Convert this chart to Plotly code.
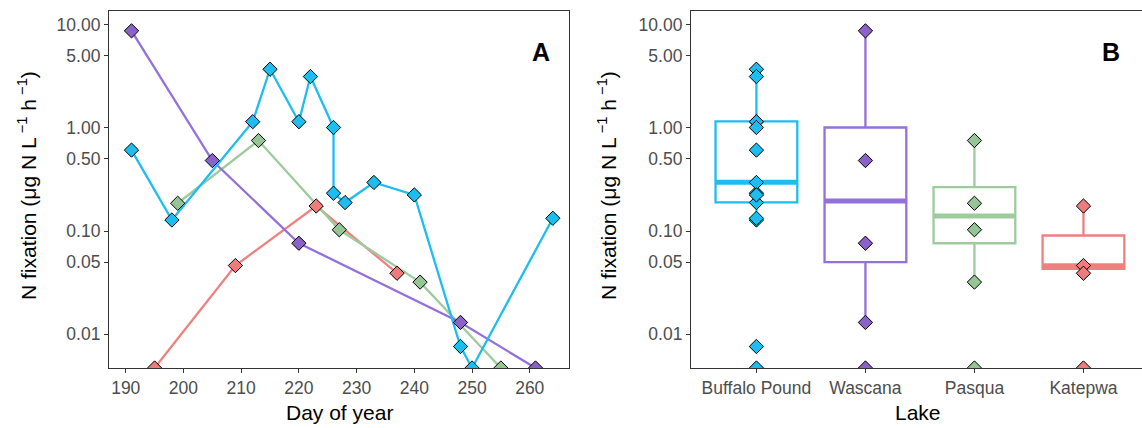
import plotly.graph_objects as go
import numpy as np

# ---------------- data ----------------
lakes = ["Buffalo Pound", "Wascana", "Pasqua", "Katepwa"]
colors = ["#1DBDF0", "#9370DB", "#9DCB9D", "#F08080"]
marker_colors = ["#1DBDF0", "#8A62C8", "#95C595", "#EE7C7C"]

bp_day = [191, 198, 212, 215, 220, 222, 226, 226, 228, 233, 240, 248, 250, 264]
bp_val = [0.61, 0.128, 1.15, 3.71, 1.15, 3.15, 1.01, 0.233, 0.189, 0.296, 0.224, 0.0076, 0.0047, 0.133]
wa_day = [191, 205, 220, 248, 261]
wa_val = [8.74, 0.483, 0.0762, 0.013, 0.0047]
pa_day = [199, 213, 227, 241, 255]
pa_val = [0.186, 0.755, 0.103, 0.032, 0.0047]
ka_day = [195, 209, 223, 237]
ka_val = [0.0047, 0.0463, 0.175, 0.039]

days = [bp_day, wa_day, pa_day, ka_day]
vals = [bp_val, wa_val, pa_val, ka_val]

# box statistics (panel B)
box_q1 = [0.19, 0.0499, 0.0762, 0.043]
box_med = [0.298, 0.196, 0.140, 0.0462]
box_q3 = [1.16, 1.01, 0.267, 0.0906]
box_lo = [0.128, 0.0133, 0.0317, 0.043]
box_hi = [3.71, 8.74, 0.755, 0.175]

ytick_vals = [10, 5, 1, 0.5, 0.1, 0.05, 0.01]
ytick_text = ["10.00", "5.00", "1.00", "0.50", "0.10", "0.05", "0.01"]
xtick_vals = [190, 200, 210, 220, 230, 240, 250, 260]

# ---------------- figure ----------------
W, H = 1142, 428
FONT = "Liberation Sans, Arial, sans-serif"
TICK = 17.5
TITLE = 21
fig = go.Figure()

# Panel A lines
order = [3, 2, 1, 0]
for i in order:
    fig.add_trace(go.Scatter(x=days[i], y=vals[i], mode="lines",
                             line=dict(color=colors[i], width=2.3),
                             xaxis="x", yaxis="y", showlegend=False, hoverinfo="skip",
                             cliponaxis=True))
for i in order:
    fig.add_trace(go.Scatter(x=days[i], y=vals[i], mode="markers",
                             marker=dict(symbol="diamond", size=11, color=marker_colors[i],
                                         line=dict(color="black", width=1)),
                             xaxis="x", yaxis="y", showlegend=False, cliponaxis=True))

# Panel B boxes
bw = 0.75
for i, lake in enumerate(lakes):
    pos = i + 1
    fig.add_trace(go.Box(x=[pos], q1=[box_q1[i]], median=[box_med[i]], q3=[box_q3[i]],
                         lowerfence=[box_lo[i]], upperfence=[box_hi[i]],
                         width=bw, boxpoints=False, whiskerwidth=0,
                         line=dict(color=colors[i], width=2.3),
                         fillcolor="rgba(255,255,255,0)",
                         xaxis="x2", yaxis="y2", showlegend=False, name=lake))
    fig.add_trace(go.Scatter(x=[pos - bw / 2, pos + bw / 2], y=[box_med[i], box_med[i]],
                             mode="lines", line=dict(color=colors[i], width=5),
                             xaxis="x2", yaxis="y2", showlegend=False, hoverinfo="skip"))
for i, lake in enumerate(lakes):
    pos = i + 1
    fig.add_trace(go.Scatter(x=[pos] * len(vals[i]), y=vals[i], mode="markers",
                             marker=dict(symbol="diamond", size=11, color=marker_colors[i],
                                         line=dict(color="black", width=1)),
                             xaxis="x2", yaxis="y2", showlegend=False, cliponaxis=True))

yr = [np.log10(0.0047), 1.139]
ycommon = dict(type="log", range=yr, tickvals=ytick_vals, ticktext=ytick_text,
               showgrid=False, zeroline=False, showline=True, linecolor="#333333",
               linewidth=1.2, mirror=True, ticks="outside", ticklen=4, tickcolor="#333333",
               tickwidth=1.2, tickfont=dict(family=FONT, size=TICK, color="#4D4D4D"))
xcommon = dict(showgrid=False, zeroline=False, showline=True, linecolor="#333333",
               linewidth=1.2, mirror=True, ticks="outside", ticklen=4, tickcolor="#333333",
               tickwidth=1.2, tickfont=dict(family=FONT, size=TICK, color="#4D4D4D"))

fig.update_layout(
    width=W, height=H, margin=dict(l=0, r=0, t=0, b=0),
    paper_bgcolor="white", plot_bgcolor="white",
    font=dict(family=FONT),
    xaxis=dict(domain=[109 / W, 569 / W], range=[187.1, 266.8], tickvals=xtick_vals,
               anchor="y", **xcommon),
    yaxis=dict(domain=[1 - 368 / H, 1 - 10.5 / H], anchor="x", **ycommon),
    xaxis2=dict(domain=[691 / W, 1.0], range=[0.4, 4.537], tickvals=[1, 2, 3, 4],
                ticktext=lakes, anchor="y2", **xcommon),
    yaxis2=dict(domain=[1 - 368 / H, 1 - 10.5 / H], anchor="x2", **ycommon),
)

ytitle = "N fixation (μg N L<sup> −1</sup> h<sup> −1</sup>)"
ann = [
    dict(text=ytitle, x=27 / W, y=1 - 186 / H, textangle=-90),
    dict(text=ytitle, x=607 / W, y=1 - 186 / H, textangle=-90),
    dict(text="Day of year", x=339 / W, y=1 - 412 / H),
    dict(text="Lake", x=918 / W, y=1 - 412 / H),
]
for a in ann:
    fig.add_annotation(xref="paper", yref="paper", showarrow=False, xanchor="center",
                       yanchor="middle", font=dict(family=FONT, size=TITLE, color="black"), **a)
fig.add_annotation(xref="paper", yref="paper", x=541 / W, y=1 - 36 / H, text="<b>A</b>",
                   showarrow=False, font=dict(family=FONT, size=25, color="black"))
fig.add_annotation(xref="paper", yref="paper", x=1122 / W, y=1 - 36 / H, text="<b>B</b>",
                   showarrow=False, font=dict(family=FONT, size=25, color="black"))

fig.write_html("out.html")
